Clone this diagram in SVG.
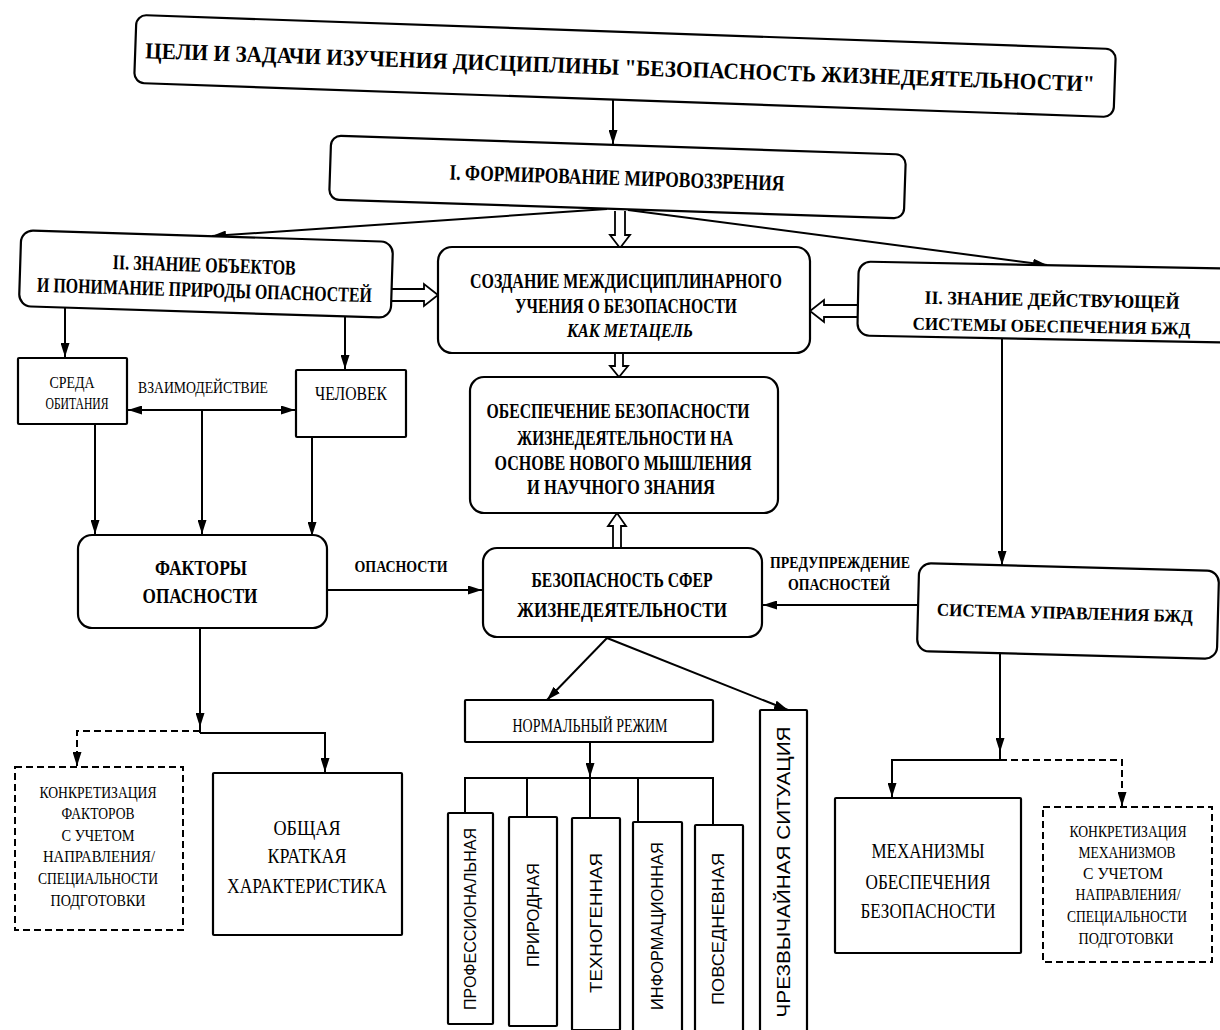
<svg xmlns="http://www.w3.org/2000/svg" width="1220" height="1030" viewBox="0 0 1220 1030">
<defs>
<style>
.box{fill:#fff;stroke:#000;stroke-width:2.2}
.dash{fill:#fff;stroke:#000;stroke-width:2;stroke-dasharray:7 4}
.ln{fill:none;stroke:#000;stroke-width:2}
.dl{fill:none;stroke:#000;stroke-width:2;stroke-dasharray:7 4}
.hol{fill:#fff;stroke:#000;stroke-width:1.8;stroke-linejoin:miter}
.t{font-family:"Liberation Serif","DejaVu Serif",serif;text-anchor:middle;fill:#000}
.b{font-weight:bold}
.v{font-family:"Liberation Sans","DejaVu Sans",sans-serif;text-anchor:middle;fill:#000}
</style>
<marker id="ar" markerUnits="userSpaceOnUse" markerWidth="15" markerHeight="9" refX="14" refY="4.5" orient="auto">
<path d="M0,0 L14,4.5 L0,9 z" fill="#000"/>
</marker>
</defs>
<rect width="1220" height="1030" fill="#fff"/>

<g id="connectors">
<line class="ln" x1="613" y1="100" x2="613" y2="144" marker-end="url(#ar)"/>
<line class="ln" x1="607" y1="209" x2="212" y2="236" marker-end="url(#ar)"/>
<line class="ln" x1="628" y1="210" x2="1047" y2="265" marker-end="url(#ar)"/>
<path class="hol" d="M615,211 V235 H610 L620,248 L630,235 H625 V211"/>
<path class="hol" d="M391,289 H424 V284 L438,295 L424,306 V301 H391"/>
<path class="hol" d="M859,305 H824 V300 L810,311 L824,322 V317 H859"/>
<path class="hol" d="M615,353 V366 H610 L619,377 L628,366 H623 V353"/>
<path class="hol" d="M613,548 V526 H608 L617,513 L626,526 H621 V548"/>
<line class="ln" x1="65" y1="308" x2="65" y2="357" marker-end="url(#ar)"/>
<line class="ln" x1="345" y1="316" x2="345" y2="369" marker-end="url(#ar)"/>
<line class="ln" x1="202" y1="410" x2="128" y2="410" marker-end="url(#ar)"/>
<line class="ln" x1="202" y1="410" x2="295" y2="410" marker-end="url(#ar)"/>
<line class="ln" x1="95" y1="424" x2="95" y2="534" marker-end="url(#ar)"/>
<line class="ln" x1="202" y1="410" x2="202" y2="534" marker-end="url(#ar)"/>
<line class="ln" x1="312" y1="437" x2="312" y2="536" marker-end="url(#ar)"/>
<line class="ln" x1="327" y1="590" x2="482" y2="590" marker-end="url(#ar)"/>
<line class="ln" x1="917" y1="605" x2="763" y2="605" marker-end="url(#ar)"/>
<line class="ln" x1="1002" y1="338" x2="1002" y2="565" marker-end="url(#ar)"/>
<line class="ln" x1="607" y1="638" x2="547" y2="700" marker-end="url(#ar)"/>
<line class="ln" x1="607" y1="638" x2="788" y2="710" marker-end="url(#ar)"/>
<line class="ln" x1="200" y1="628" x2="200" y2="727" marker-end="url(#ar)"/>
<line class="ln" x1="200" y1="726" x2="200" y2="733"/>
<path class="ln" d="M200,733 H325 V772" marker-end="url(#ar)"/>
<path class="dl" d="M200,731 H77 V766" marker-end="url(#ar)"/>
<line class="ln" x1="590" y1="742" x2="590" y2="777" marker-end="url(#ar)"/>
<path class="ln" d="M465,813 V778 H713 V825 M527,778 V817 M590,778 V818 M638,778 V822"/>
<line class="ln" x1="1000" y1="653" x2="1000" y2="752" marker-end="url(#ar)"/>
<line class="ln" x1="1000" y1="750" x2="1000" y2="760"/>
<path class="ln" d="M1000,760 H892 V797" marker-end="url(#ar)"/>
<path class="dl" d="M1000,760 H1122 V806" marker-end="url(#ar)"/>
</g>

<g id="title" transform="rotate(2 625 66)">
<rect class="box" x="135" y="32" width="980" height="68" rx="10"/>
<text class="t b" x="620" y="75" font-size="23" textLength="950" lengthAdjust="spacingAndGlyphs">ЦЕЛИ И ЗАДАЧИ ИЗУЧЕНИЯ ДИСЦИПЛИНЫ "БЕЗОПАСНОСТЬ ЖИЗНЕДЕЯТЕЛЬНОСТИ"</text>
</g>

<g id="n-formirovanie" transform="rotate(1.9 617 177)">
<rect class="box" x="330" y="145" width="575" height="64" rx="10"/>
<text class="t b" x="617" y="185" font-size="22" textLength="335" lengthAdjust="spacingAndGlyphs">I. ФОРМИРОВАНИЕ МИРОВОЗЗРЕНИЯ</text>
</g>

<g id="n-znanie-obektov" transform="rotate(1.8 206 274)">
<rect class="box" x="20" y="236" width="372" height="76" rx="12"/>
<text class="t b" x="204" y="272" font-size="21" textLength="183" lengthAdjust="spacingAndGlyphs">II. ЗНАНИЕ ОБЪЕКТОВ</text>
<text class="t b" x="205" y="297" font-size="21" textLength="335" lengthAdjust="spacingAndGlyphs">И ПОНИМАНИЕ ПРИРОДЫ ОПАСНОСТЕЙ</text>
</g>

<g id="n-sozdanie">
<rect class="box" x="438" y="247" width="372" height="106" rx="14"/>
<text class="t b" x="626" y="288" font-size="22" textLength="312" lengthAdjust="spacingAndGlyphs">СОЗДАНИЕ МЕЖДИСЦИПЛИНАРНОГО</text>
<text class="t b" x="626" y="313" font-size="22" textLength="222" lengthAdjust="spacingAndGlyphs">УЧЕНИЯ О БЕЗОПАСНОСТИ</text>
<text class="t b" x="630" y="337" font-size="19" font-style="italic" textLength="126" lengthAdjust="spacingAndGlyphs">КАК МЕТАЦЕЛЬ</text>
</g>

<g id="n-znanie-sistemy" transform="rotate(1.1 1040 302)">
<rect class="box" x="858" y="265" width="380" height="74" rx="12"/>
<text class="t b" x="1052" y="306" font-size="19" textLength="255" lengthAdjust="spacingAndGlyphs">II. ЗНАНИЕ ДЕЙСТВУЮЩЕЙ</text>
<text class="t b" x="1052" y="332" font-size="18" textLength="278" lengthAdjust="spacingAndGlyphs">СИСТЕМЫ ОБЕСПЕЧЕНИЯ БЖД</text>
</g>

<g id="n-obespechenie">
<rect class="box" x="470" y="377" width="308" height="136" rx="14"/>
<text class="t b" x="618" y="418" font-size="22" textLength="263" lengthAdjust="spacingAndGlyphs">ОБЕСПЕЧЕНИЕ БЕЗОПАСНОСТИ</text>
<text class="t b" x="625" y="445" font-size="22" textLength="216" lengthAdjust="spacingAndGlyphs">ЖИЗНЕДЕЯТЕЛЬНОСТИ НА</text>
<text class="t b" x="623" y="470" font-size="22" textLength="257" lengthAdjust="spacingAndGlyphs">ОСНОВЕ НОВОГО МЫШЛЕНИЯ</text>
<text class="t b" x="621" y="494" font-size="22" textLength="188" lengthAdjust="spacingAndGlyphs">И НАУЧНОГО ЗНАНИЯ</text>
</g>

<g id="n-sreda">
<rect class="box" x="18" y="358" width="109" height="66" rx="1"/>
<text class="t" x="72" y="388" font-size="17" textLength="45" lengthAdjust="spacingAndGlyphs">СРЕДА</text>
<text class="t" x="77" y="409" font-size="17" textLength="63" lengthAdjust="spacingAndGlyphs">ОБИТАНИЯ</text>
</g>

<g id="n-chelovek">
<rect class="box" x="296" y="370" width="110" height="67" rx="1"/>
<text class="t" x="351" y="400" font-size="18" textLength="72" lengthAdjust="spacingAndGlyphs">ЧЕЛОВЕК</text>
</g>

<text id="l-vzaimodeistvie" class="t" x="203" y="393" font-size="17" textLength="130" lengthAdjust="spacingAndGlyphs">ВЗАИМОДЕЙСТВИЕ</text>

<g id="n-faktory">
<rect class="box" x="78" y="535" width="249" height="93" rx="14"/>
<text class="t b" x="201" y="575" font-size="21" textLength="92" lengthAdjust="spacingAndGlyphs">ФАКТОРЫ</text>
<text class="t b" x="200" y="603" font-size="21" textLength="115" lengthAdjust="spacingAndGlyphs">ОПАСНОСТИ</text>
</g>

<text id="l-opasnosti" class="t b" x="401" y="572" font-size="17" textLength="93" lengthAdjust="spacingAndGlyphs">ОПАСНОСТИ</text>

<g id="n-bezopasnost-sfer">
<rect class="box" x="483" y="548" width="279" height="89" rx="14"/>
<text class="t b" x="622" y="587" font-size="20" textLength="181" lengthAdjust="spacingAndGlyphs">БЕЗОПАСНОСТЬ СФЕР</text>
<text class="t b" x="622" y="617" font-size="22" textLength="210" lengthAdjust="spacingAndGlyphs">ЖИЗНЕДЕЯТЕЛЬНОСТИ</text>
</g>

<g id="l-preduprezhdenie">
<text class="t b" x="840" y="568" font-size="16" textLength="140" lengthAdjust="spacingAndGlyphs">ПРЕДУПРЕЖДЕНИЕ</text>
<text class="t b" x="839" y="590" font-size="16" textLength="102" lengthAdjust="spacingAndGlyphs">ОПАСНОСТЕЙ</text>
</g>

<g id="n-sistema-upravleniya" transform="rotate(1.5 1068 611)">
<rect class="box" x="918" y="567" width="300" height="88" rx="12"/>
<text class="t b" x="1065" y="619" font-size="18" textLength="256" lengthAdjust="spacingAndGlyphs">СИСТЕМА УПРАВЛЕНИЯ БЖД</text>
</g>

<g id="n-normalny">
<rect class="box" x="465" y="700" width="248" height="42" rx="1"/>
<text class="t" x="590" y="732" font-size="19" textLength="155" lengthAdjust="spacingAndGlyphs">НОРМАЛЬНЫЙ РЕЖИМ</text>
</g>

<g id="n-chrezvychainaya">
<rect class="box" x="760" y="710" width="47" height="325" rx="1"/>
<text class="v" x="790" y="872" font-size="19" transform="rotate(-90 790 872)" textLength="291" lengthAdjust="spacingAndGlyphs">ЧРЕЗВЫЧАЙНАЯ СИТУАЦИЯ</text>
</g>

<g id="n-professionalnaya">
<rect class="box" x="448" y="813" width="45" height="211" rx="1"/>
<text class="v" x="476" y="919" font-size="16" transform="rotate(-90 476 919)" textLength="182" lengthAdjust="spacingAndGlyphs">ПРОФЕССИОНАЛЬНАЯ</text>
</g>
<g id="n-prirodnaya">
<rect class="box" x="509" y="817" width="48" height="209" rx="1"/>
<text class="v" x="539" y="915" font-size="16" transform="rotate(-90 539 915)" textLength="104" lengthAdjust="spacingAndGlyphs">ПРИРОДНАЯ</text>
</g>
<g id="n-tekhnogennaya">
<rect class="box" x="572" y="818" width="48" height="212" rx="1"/>
<text class="v" x="602" y="923" font-size="16" transform="rotate(-90 602 923)" textLength="140" lengthAdjust="spacingAndGlyphs">ТЕХНОГЕННАЯ</text>
</g>
<g id="n-informatsionnaya">
<rect class="box" x="633" y="822" width="49" height="213" rx="1"/>
<text class="v" x="663" y="926" font-size="16" transform="rotate(-90 663 926)" textLength="168" lengthAdjust="spacingAndGlyphs">ИНФОРМАЦИОННАЯ</text>
</g>
<g id="n-povsednevnaya">
<rect class="box" x="695" y="825" width="48" height="210" rx="1"/>
<text class="v" x="724" y="929" font-size="16" transform="rotate(-90 724 929)" textLength="152" lengthAdjust="spacingAndGlyphs">ПОВСЕДНЕВНАЯ</text>
</g>

<g id="n-konkretizatsiya-faktorov">
<rect class="dash" x="15" y="767" width="168" height="163"/>
<text class="t" x="98" y="798" font-size="16" textLength="117" lengthAdjust="spacingAndGlyphs">КОНКРЕТИЗАЦИЯ</text>
<text class="t" x="98" y="819" font-size="16" textLength="73" lengthAdjust="spacingAndGlyphs">ФАКТОРОВ</text>
<text class="t" x="98" y="841" font-size="16" textLength="73" lengthAdjust="spacingAndGlyphs">С УЧЕТОМ</text>
<text class="t" x="99" y="862" font-size="16" textLength="112" lengthAdjust="spacingAndGlyphs">НАПРАВЛЕНИЯ/</text>
<text class="t" x="98" y="884" font-size="16" textLength="120" lengthAdjust="spacingAndGlyphs">СПЕЦИАЛЬНОСТИ</text>
<text class="t" x="98" y="906" font-size="16" textLength="95" lengthAdjust="spacingAndGlyphs">ПОДГОТОВКИ</text>
</g>

<g id="n-obshchaya">
<rect class="box" x="213" y="773" width="189" height="162" rx="1"/>
<text class="t" x="307" y="835" font-size="22" textLength="67" lengthAdjust="spacingAndGlyphs">ОБЩАЯ</text>
<text class="t" x="307" y="863" font-size="22" textLength="79" lengthAdjust="spacingAndGlyphs">КРАТКАЯ</text>
<text class="t" x="307" y="893" font-size="22" textLength="160" lengthAdjust="spacingAndGlyphs">ХАРАКТЕРИСТИКА</text>
</g>

<g id="n-mekhanizmy">
<rect class="box" x="835" y="798" width="186" height="155" rx="1"/>
<text class="t" x="928" y="858" font-size="21" textLength="113" lengthAdjust="spacingAndGlyphs">МЕХАНИЗМЫ</text>
<text class="t" x="928" y="889" font-size="21" textLength="125" lengthAdjust="spacingAndGlyphs">ОБЕСПЕЧЕНИЯ</text>
<text class="t" x="928" y="918" font-size="21" textLength="135" lengthAdjust="spacingAndGlyphs">БЕЗОПАСНОСТИ</text>
</g>

<g id="n-konkretizatsiya-mekhanizmov">
<rect class="dash" x="1043" y="807" width="169" height="155"/>
<text class="t" x="1128" y="837" font-size="16" textLength="117" lengthAdjust="spacingAndGlyphs">КОНКРЕТИЗАЦИЯ</text>
<text class="t" x="1127" y="858" font-size="16" textLength="97" lengthAdjust="spacingAndGlyphs">МЕХАНИЗМОВ</text>
<text class="t" x="1123" y="879" font-size="16" textLength="80" lengthAdjust="spacingAndGlyphs">С УЧЕТОМ</text>
<text class="t" x="1128" y="900" font-size="16" textLength="105" lengthAdjust="spacingAndGlyphs">НАПРАВЛЕНИЯ/</text>
<text class="t" x="1127" y="922" font-size="16" textLength="120" lengthAdjust="spacingAndGlyphs">СПЕЦИАЛЬНОСТИ</text>
<text class="t" x="1126" y="944" font-size="16" textLength="95" lengthAdjust="spacingAndGlyphs">ПОДГОТОВКИ</text>
</g>
</svg>
